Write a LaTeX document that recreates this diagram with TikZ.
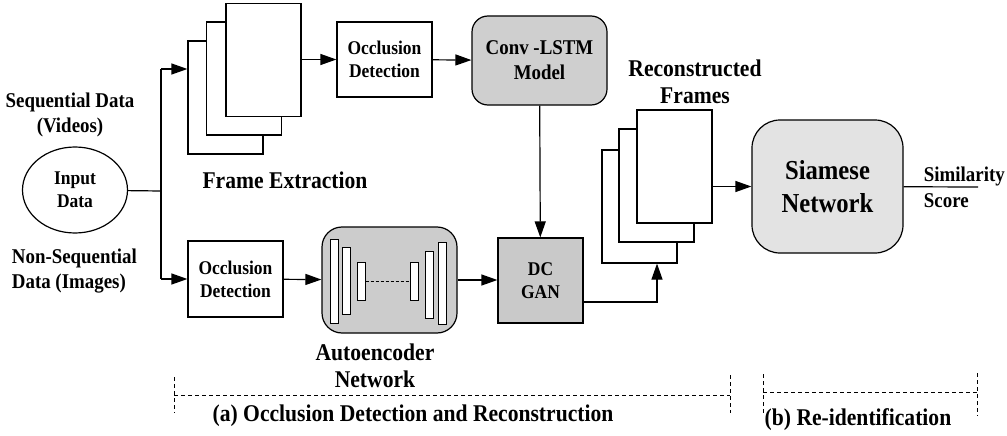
\documentclass[tikz,border=0pt]{standalone}
\usepackage{fontspec}
\setmainfont[FakeStretch=0.9]{Liberation Serif}
\usetikzlibrary{positioning}
\usetikzlibrary{shapes.geometric}
\usetikzlibrary{arrows.meta}

\begin{document}
\begin{tikzpicture}[
    x=1pt,y=-1pt,
    line width=1.2pt,
    every node/.style={font=\bfseries,align=center},
    fsmall/.style={font=\fontsize{19.4}{23}\selectfont\bfseries},
    fmed/.style={font=\fontsize{21}{25}\selectfont\bfseries},
    fbig/.style={font=\fontsize{24}{27}\selectfont\bfseries},
    fhuge/.style={font=\fontsize{27.4}{33}\selectfont\bfseries},
    box/.style={draw,fill=white,inner sep=0pt},
    frm/.style={draw,fill=white,minimum width=75pt,minimum height=113pt},
    bar/.style={draw,fill=white,line width=1pt,minimum width=8pt,inner sep=0pt},
    arr/.style={-{Triangle[length=16pt,width=11pt]}},
    grp/.style={line width=1pt,dash pattern=on 4pt off 3pt}
  ]
  \useasboundingbox (0,0) rectangle (1007,436);

  % input
  \node[ellipse,draw,fsmall,minimum width=105pt,minimum height=86pt,inner sep=0pt]
    (inp) at (75,190) {Input\\Data};
  \node[fmed] (seq) at (70,115) {Sequential Data\\(Videos)};
  \node[fmed,align=left,anchor=west] (nonseq) at (8,271) {Non-Sequential\\Data (Images)};

  % frame extraction
  \node[frm] (fe1) at (225.5,97.5) {};
  \node[frm] (fe2) at (244,78.5) {};
  \node[frm] (fe3) at (263.5,60) {};
  \node[fbig] (felbl) at (285,180) {Frame Extraction};

  % upper branch
  \node[box,fsmall,minimum width=95pt,minimum height=75pt] (occ1) at (384.5,59.5) {Occlusion\\Detection};
  \node[box,fmed,fill=black!19,rounded corners=16pt,minimum width=135pt,minimum height=89pt]
    (conv) at (539.5,60.5) {Conv -LSTM\\Model};

  % lower branch
  \node[box,fsmall,minimum width=95pt,minimum height=76pt] (occ2) at (235.5,279) {Occlusion\\Detection};
  \node[box,fill=black!20,rounded corners=20pt,minimum width=135pt,minimum height=106pt]
    (ae) at (389.5,280) {};
  \node[bar,minimum height=84pt] (b1) at (334,281) {};
  \node[bar,minimum height=67pt] (b2) at (346.5,280.5) {};
  \node[bar,minimum height=38pt] (b3) at (361,281) {};
  \node[bar,minimum height=38pt] (b4) at (414.5,281) {};
  \node[bar,minimum height=67pt] (b5) at (429,284.5) {};
  \node[bar,minimum height=82pt] (b6) at (442,283) {};
  \draw[line width=0.8pt,densely dashed] (b3) -- (b4);
  \node[fbig] (aelbl) at (375,366) {Autoencoder\\Network};
  \node[box,fsmall,fill=black!21,minimum width=85pt,minimum height=85pt] (gan) at (540.5,280.5) {DC\\GAN};

  % reconstructed frames
  \node[frm] (rf1) at (639.5,206.5) {};
  \node[frm] (rf2) at (656.5,185.5) {};
  \node[frm] (rf3) at (674.5,166.5) {};
  \node[fbig] (rflbl) at (695,82) {Reconstructed\\Frames};

  % re-identification
  \node[box,fhuge,fill=black!11,rounded corners=28pt,minimum width=151pt,minimum height=133pt]
    (sia) at (827.5,186.5) {Siamese\\Network};
  \coordinate (score) at (978,187);
  \node[align=left,anchor=west,font=\fontsize{21}{26}\selectfont\bfseries] (scorelbl) at (920,187) {Similarity\\Score};

  % connectors
  \coordinate (split) at (161,191);
  \coordinate (up) at (161,69);
  \coordinate (dn) at (161,279);
  \draw (inp) -- (split);
  \draw (up) -- (dn);
  \draw[arr] (up) -- (fe1.west |- up);
  \draw[arr] (dn) -- (occ2);
  \draw[arr] (fe3.east |- occ1) -- (occ1);
  \draw[arr] (occ1) -- (conv);
  \draw[arr] (conv) -- (gan);
  \draw[arr] (occ2) -- (ae);
  \draw[arr] (ae) -- (gan.west |- ae);
  \draw[arr] ([yshift=-21.5pt]gan.east) -| ([xshift=17.5pt]rf1.south);
  \draw[arr] (rf3.east |- sia) -- (sia);
  \draw (sia) -- (score);

  % groups
  \draw[grp] (174,377) -- (174,413);
  \draw[grp] (174,395) -- (730,395);
  \draw[grp] (730,375) -- (730,413);
  \node[fbig] (glbla) at (413,416) {(a) Occlusion Detection and Reconstruction};
  \draw[grp] (763,374) -- (763,413);
  \draw[grp] (763,392) -- (977,392);
  \draw[grp] (977,373) -- (977,416);
  \node[fbig] (glblb) at (858,420) {(b) Re-identification};
\end{tikzpicture}
\end{document}
